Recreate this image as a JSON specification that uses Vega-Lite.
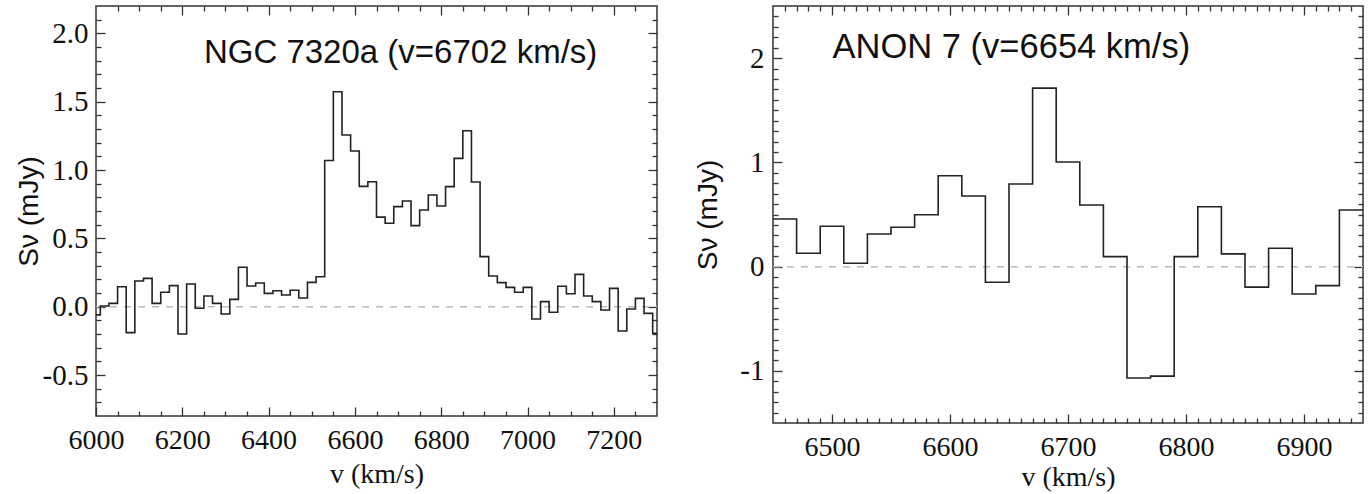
{
  "$schema": "https://vega.github.io/schema/vega-lite/v6.json",
  "background": "white",
  "padding": {"left": 14, "top": 4, "right": 0, "bottom": 0},
  "datasets": {
    "ngc": [
      {"v": 6000, "s": -0.06}, {"v": 6020, "s": 0.005}, {"v": 6040, "s": 0.024}, {"v": 6060, "s": 0.146},
      {"v": 6080, "s": -0.19}, {"v": 6100, "s": 0.188}, {"v": 6120, "s": 0.207}, {"v": 6140, "s": 0.024},
      {"v": 6160, "s": 0.105}, {"v": 6180, "s": 0.154}, {"v": 6200, "s": -0.2}, {"v": 6220, "s": 0.166},
      {"v": 6240, "s": -0.012}, {"v": 6260, "s": 0.078}, {"v": 6280, "s": 0.024}, {"v": 6300, "s": -0.054},
      {"v": 6320, "s": 0.053}, {"v": 6340, "s": 0.288}, {"v": 6360, "s": 0.151}, {"v": 6380, "s": 0.173},
      {"v": 6400, "s": 0.097}, {"v": 6420, "s": 0.117}, {"v": 6440, "s": 0.085}, {"v": 6460, "s": 0.12},
      {"v": 6480, "s": 0.063}, {"v": 6500, "s": 0.178}, {"v": 6520, "s": 0.219}, {"v": 6540, "s": 1.07},
      {"v": 6560, "s": 1.573}, {"v": 6580, "s": 1.256}, {"v": 6600, "s": 1.139}, {"v": 6620, "s": 0.88},
      {"v": 6640, "s": 0.914}, {"v": 6660, "s": 0.655}, {"v": 6680, "s": 0.61}, {"v": 6700, "s": 0.732},
      {"v": 6720, "s": 0.773}, {"v": 6740, "s": 0.593}, {"v": 6760, "s": 0.707}, {"v": 6780, "s": 0.817},
      {"v": 6800, "s": 0.737}, {"v": 6820, "s": 0.878}, {"v": 6840, "s": 1.085}, {"v": 6860, "s": 1.287},
      {"v": 6880, "s": 0.912}, {"v": 6900, "s": 0.366}, {"v": 6920, "s": 0.224}, {"v": 6940, "s": 0.176},
      {"v": 6960, "s": 0.141}, {"v": 6980, "s": 0.105}, {"v": 7000, "s": 0.141}, {"v": 7020, "s": -0.09},
      {"v": 7040, "s": 0.037}, {"v": 7060, "s": -0.041}, {"v": 7080, "s": 0.149}, {"v": 7100, "s": 0.095},
      {"v": 7120, "s": 0.236}, {"v": 7140, "s": 0.078}, {"v": 7160, "s": 0.037}, {"v": 7180, "s": -0.024},
      {"v": 7200, "s": 0.134}, {"v": 7220, "s": -0.178}, {"v": 7240, "s": -0.017}, {"v": 7260, "s": 0.061},
      {"v": 7280, "s": -0.049}, {"v": 7300, "s": -0.195}
    ],
    "anon": [
      {"v": 6450, "s": 0.457}, {"v": 6470, "s": 0.128}, {"v": 6490, "s": 0.387}, {"v": 6510, "s": 0.032},
      {"v": 6530, "s": 0.313}, {"v": 6550, "s": 0.377}, {"v": 6570, "s": 0.498}, {"v": 6590, "s": 0.872},
      {"v": 6610, "s": 0.677}, {"v": 6630, "s": -0.15}, {"v": 6650, "s": 0.792}, {"v": 6670, "s": 1.712},
      {"v": 6690, "s": 1.003}, {"v": 6710, "s": 0.591}, {"v": 6730, "s": 0.096}, {"v": 6750, "s": -1.069},
      {"v": 6770, "s": -1.05}, {"v": 6790, "s": 0.096}, {"v": 6810, "s": 0.575}, {"v": 6830, "s": 0.122},
      {"v": 6850, "s": -0.197}, {"v": 6870, "s": 0.176}, {"v": 6890, "s": -0.262}, {"v": 6910, "s": -0.182},
      {"v": 6930, "s": 0.543}, {"v": 6950, "s": 0.543}
    ],
    "one": [{"k": 1}]
  },
  "hconcat": [
    {
      "width": 561,
      "height": 410,
      "resolve": {"axis": {"x": "independent", "y": "independent"}},
      "layer": [
        {
          "data": {"name": "one"},
          "mark": {"type": "rule", "color": "#bbbbbb", "strokeWidth": 1.5, "strokeDash": [7, 7]},
          "encoding": {
            "x": {"datum": 6000, "type": "quantitative", "scale": {"domain": [6000, 7300], "nice": false, "zero": false},
              "axis": {"orient": "top", "values": [6050, 6100, 6150, 6250, 6300, 6350, 6450, 6500, 6550, 6650, 6700, 6750, 6850, 6900, 6950, 7050, 7100, 7150, 7250], "tickSize": -5, "labels": false, "title": null}},
            "x2": {"datum": 7300},
            "y": {"datum": 0, "type": "quantitative", "scale": {"domain": [-0.8, 2.2], "nice": false, "zero": false},
              "axis": {"orient": "right", "values": [-0.7, -0.6, -0.4, -0.3, -0.2, -0.1, 0.1, 0.2, 0.3, 0.4, 0.6, 0.7, 0.8, 0.9, 1.1, 1.2, 1.3, 1.4, 1.6, 1.7, 1.8, 1.9, 2.1], "tickSize": -5, "labels": false, "title": null}}
          }
        },
        {
          "data": {"name": "ngc"},
          "mark": {"type": "line", "interpolate": "step", "color": "#222", "strokeWidth": 1.6, "clip": true},
          "encoding": {
            "x": {"field": "v", "type": "quantitative", "scale": {"domain": [6000, 7300], "nice": false, "zero": false},
              "axis": {"orient": "bottom", "values": [6000, 6200, 6400, 6600, 6800, 7000, 7200], "format": "d", "tickSize": -9, "labelPadding": 19, "title": "v (km/s)", "titleY": 66, "titleBaseline": "alphabetic"}},
            "y": {"field": "s", "type": "quantitative", "scale": {"domain": [-0.8, 2.2], "nice": false, "zero": false},
              "axis": {"orient": "left", "values": [-0.5, 0, 0.5, 1, 1.5, 2], "labelExpr": "replace(format(datum.value,'.1f'),'\u2212','-')", "tickSize": -9, "labelPadding": 17, "labelFontSize": 29, "title": "Sν (mJy)", "titleX": -53, "titleFont": "Liberation Sans", "titleBaseline": "bottom"}}
          }
        },
        {
          "data": {"name": "ngc"},
          "mark": {"type": "point", "opacity": 0},
          "encoding": {
            "x": {"field": "v", "type": "quantitative", "scale": {"domain": [6000, 7300], "nice": false, "zero": false},
              "axis": {"orient": "bottom", "values": [6050, 6100, 6150, 6250, 6300, 6350, 6450, 6500, 6550, 6650, 6700, 6750, 6850, 6900, 6950, 7050, 7100, 7150, 7250], "tickSize": -5, "labels": false, "title": null}},
            "y": {"field": "s", "type": "quantitative", "scale": {"domain": [-0.8, 2.2], "nice": false, "zero": false},
              "axis": {"orient": "left", "values": [-0.7, -0.6, -0.4, -0.3, -0.2, -0.1, 0.1, 0.2, 0.3, 0.4, 0.6, 0.7, 0.8, 0.9, 1.1, 1.2, 1.3, 1.4, 1.6, 1.7, 1.8, 1.9, 2.1], "tickSize": -5, "labels": false, "title": null}}
          }
        },
        {
          "data": {"name": "one"},
          "mark": {"type": "text", "text": "NGC 7320a (v=6702 km/s)", "font": "Liberation Sans", "fontSize": 33, "align": "left", "baseline": "alphabetic", "color": "#111"},
          "encoding": {
            "x": {"datum": 6250, "type": "quantitative", "scale": {"domain": [6000, 7300], "nice": false, "zero": false},
              "axis": {"orient": "top", "values": [6200, 6400, 6600, 6800, 7000, 7200], "tickSize": -9, "labels": false, "title": null}},
            "y": {"datum": 1.78, "type": "quantitative", "scale": {"domain": [-0.8, 2.2], "nice": false, "zero": false},
              "axis": {"orient": "right", "values": [-0.5, 0, 0.5, 1, 1.5, 2], "tickSize": -9, "labels": false, "title": null}}
          }
        }
      ]
    },
    {
      "width": 590,
      "height": 417,
      "resolve": {"axis": {"x": "independent", "y": "independent"}},
      "layer": [
        {
          "data": {"name": "one"},
          "mark": {"type": "rule", "color": "#bbbbbb", "strokeWidth": 1.5, "strokeDash": [7, 7]},
          "encoding": {
            "x": {"datum": 6450, "type": "quantitative", "scale": {"domain": [6450, 6950], "nice": false, "zero": false},
              "axis": {"orient": "top", "values": [6460, 6470, 6480, 6490, 6510, 6520, 6530, 6540, 6550, 6560, 6570, 6580, 6590, 6610, 6620, 6630, 6640, 6650, 6660, 6670, 6680, 6690, 6710, 6720, 6730, 6740, 6750, 6760, 6770, 6780, 6790, 6810, 6820, 6830, 6840, 6850, 6860, 6870, 6880, 6890, 6910, 6920, 6930, 6940], "tickSize": -5, "labels": false, "title": null}},
            "x2": {"datum": 6950},
            "y": {"datum": 0, "type": "quantitative", "scale": {"domain": [-1.5, 2.5], "nice": false, "zero": false},
              "axis": {"orient": "right", "values": [-1.4, -1.3, -1.2, -1.1, -0.9, -0.8, -0.7, -0.6, -0.5, -0.4, -0.3, -0.2, -0.1, 0.1, 0.2, 0.3, 0.4, 0.5, 0.6, 0.7, 0.8, 0.9, 1.1, 1.2, 1.3, 1.4, 1.5, 1.6, 1.7, 1.8, 1.9, 2.1, 2.2, 2.3, 2.4], "tickSize": -5, "labels": false, "title": null}}
          }
        },
        {
          "data": {"name": "anon"},
          "mark": {"type": "line", "interpolate": "step-after", "color": "#222", "strokeWidth": 1.6, "clip": true},
          "encoding": {
            "x": {"field": "v", "type": "quantitative", "scale": {"domain": [6450, 6950], "nice": false, "zero": false},
              "axis": {"orient": "bottom", "values": [6500, 6600, 6700, 6800, 6900], "format": "d", "tickSize": -9, "labelPadding": 19, "title": "v (km/s)", "titleY": 62, "titleBaseline": "alphabetic"}},
            "y": {"field": "s", "type": "quantitative", "scale": {"domain": [-1.5, 2.5], "nice": false, "zero": false},
              "axis": {"orient": "left", "values": [-1, 0, 1, 2], "labelExpr": "replace(format(datum.value,'d'),'\u2212','-')", "tickSize": -9, "labelPadding": 18, "labelFontSize": 29, "title": "Sν (mJy)", "titleX": -51, "titleFont": "Liberation Sans", "titleBaseline": "bottom"}}
          }
        },
        {
          "data": {"name": "anon"},
          "mark": {"type": "point", "opacity": 0},
          "encoding": {
            "x": {"field": "v", "type": "quantitative", "scale": {"domain": [6450, 6950], "nice": false, "zero": false},
              "axis": {"orient": "bottom", "values": [6460, 6470, 6480, 6490, 6510, 6520, 6530, 6540, 6550, 6560, 6570, 6580, 6590, 6610, 6620, 6630, 6640, 6650, 6660, 6670, 6680, 6690, 6710, 6720, 6730, 6740, 6750, 6760, 6770, 6780, 6790, 6810, 6820, 6830, 6840, 6850, 6860, 6870, 6880, 6890, 6910, 6920, 6930, 6940], "tickSize": -5, "labels": false, "title": null}},
            "y": {"field": "s", "type": "quantitative", "scale": {"domain": [-1.5, 2.5], "nice": false, "zero": false},
              "axis": {"orient": "left", "values": [-1.4, -1.3, -1.2, -1.1, -0.9, -0.8, -0.7, -0.6, -0.5, -0.4, -0.3, -0.2, -0.1, 0.1, 0.2, 0.3, 0.4, 0.5, 0.6, 0.7, 0.8, 0.9, 1.1, 1.2, 1.3, 1.4, 1.5, 1.6, 1.7, 1.8, 1.9, 2.1, 2.2, 2.3, 2.4], "tickSize": -5, "labels": false, "title": null}}
          }
        },
        {
          "data": {"name": "one"},
          "mark": {"type": "text", "text": "ANON 7 (v=6654 km/s)", "font": "Liberation Sans", "fontSize": 34.5, "align": "left", "baseline": "alphabetic", "color": "#111"},
          "encoding": {
            "x": {"datum": 6500.5, "type": "quantitative", "scale": {"domain": [6450, 6950], "nice": false, "zero": false},
              "axis": {"orient": "top", "values": [6500, 6600, 6700, 6800, 6900], "tickSize": -9, "labels": false, "title": null}},
            "y": {"datum": 2.0, "type": "quantitative", "scale": {"domain": [-1.5, 2.5], "nice": false, "zero": false},
              "axis": {"orient": "right", "values": [-1, 0, 1, 2], "tickSize": -9, "labels": false, "title": null}}
          }
        }
      ]
    }
  ],
  "spacing": 32,
  "config": {
    "view": {"stroke": "#333", "strokeWidth": 1.5},
    "axis": {
      "domain": false,
      "grid": false,
      "tickColor": "#333",
      "tickWidth": 1.3,
      "labelFont": "Liberation Serif",
      "labelFontSize": 28,
      "labelColor": "#111",
      "labelFlush": false,
      "labelPadding": 8,
      "titleFont": "Liberation Serif",
      "titleFontSize": 28,
      "titleFontWeight": "normal",
      "titleColor": "#111"
    }
  }
}
